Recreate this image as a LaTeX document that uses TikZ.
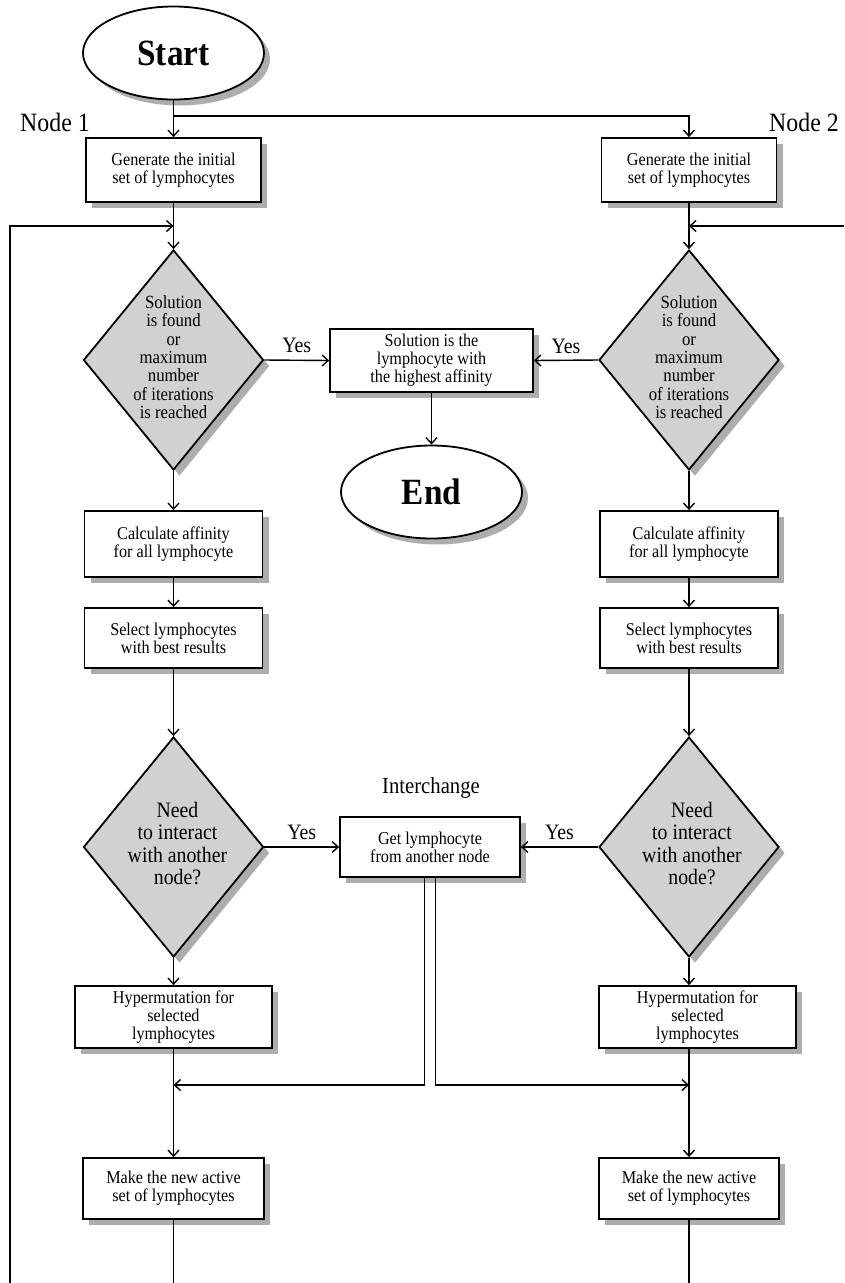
\documentclass[tikz,border=0pt]{standalone}
\usepackage{fontspec}
\setmainfont{Liberation Serif}[FakeStretch=0.9]
\usetikzlibrary{shapes.geometric,shadows,arrows.meta,calc}
\newcommand\boxfont{\fontsize{18}{18}\selectfont}
\newcommand\dafont{\fontsize{18.6}{18.2}\selectfont}
\newcommand\dbfont{\fontsize{22}{22.4}\selectfont}
\newcommand\termfont{\fontsize{37}{38}\selectfont\bfseries}
\newcommand\dtext[2]{\smash{\makebox[0pt]{\hspace*{#1}\raisebox{-.22em}{\begin{tabular}{@{}c@{}}#2\end{tabular}}}}}
\tikzset{
  base/.style={draw=black, line width=1.8pt, fill=white, align=center, inner sep=0pt,
    drop shadow={shadow xshift=6pt, shadow yshift=-6pt, fill=black!32, opacity=1}},
  procbox/.style={base, rectangle, font=\boxfont},
  term/.style={base, ellipse, font=\termfont, minimum width=181pt, minimum height=93pt},
  decision/.style={base, diamond, fill=black!18, minimum width=180pt, minimum height=220pt},
  conn/.style={line width=1.4pt, -{Straight Barb[length=6pt,width=11pt]}},
  plain/.style={line width=1.4pt},
  lbl/.style={font=\fontsize{22}{24}\selectfont, inner sep=0pt},
}
\begin{document}
\begin{tikzpicture}[x=1pt,y=-1pt]
\useasboundingbox (0,0) rectangle (844,1283);
\fill[white] (0,0) rectangle (844,1283);

% nodes
\node[term] (start) at (173.5,53) {Start};
\node[lbl, font=\fontsize{26.5}{28}\selectfont] (n1) at (55,122) {Node 1};
\node[lbl, font=\fontsize{26.5}{28}\selectfont] (n2) at (804,122) {Node 2};

\node[procbox, minimum width=175pt, minimum height=64pt] (gen1) at (173.5,170) {Generate the initial\\set of lymphocytes};
\node[procbox, minimum width=175pt, minimum height=64pt] (gen2) at (689,170) {Generate the initial\\set of lymphocytes};

\node[decision, font=\dafont] (d1) at (173.5,360) {\dtext{0pt}{Solution\\is found\\or\\maximum\\number\\of iterations\\is reached}};
\node[decision, font=\dafont] (d2) at (689,360) {\dtext{0pt}{Solution\\is found\\or\\maximum\\number\\of iterations\\is reached}};

\node[procbox, minimum width=203pt, minimum height=63pt] (sol) at (431.5,360.5) {Solution is the\\lymphocyte with\\the highest affinity};
\node[term] (end) at (431.5,492) {End};

\node[procbox, minimum width=178pt, minimum height=66pt] (calc1) at (173.5,544) {Calculate affinity\\for all lymphocyte};
\node[procbox, minimum width=178pt, minimum height=66pt] (calc2) at (689,544) {Calculate affinity\\for all lymphocyte};

\node[procbox, minimum width=178pt, minimum height=60pt] (sel1) at (173.5,638) {Select lymphocytes\\with best results};
\node[procbox, minimum width=178pt, minimum height=60pt] (sel2) at (689,638) {Select lymphocytes\\with best results};

\node[decision, font=\dbfont] (e1) at (173.5,847) {\dtext{8pt}{Need\\to interact\\with another\\node?}};
\node[decision, font=\dbfont] (e2) at (689,847) {\dtext{6pt}{Need\\to interact\\with another\\node?}};

\node[procbox, minimum width=180pt, minimum height=60pt] (get) at (430,847) {Get lymphocyte\\from another node};
\node[lbl, font=\fontsize{23}{25}\selectfont] (inter) at (431,788) {Interchange};

\node[procbox, minimum width=197pt, minimum height=62pt] (hyp1) at (173.5,1017) {Hypermutation for\\selected\\lymphocytes};
\node[procbox, minimum width=197pt, minimum height=62pt] (hyp2) at (697.5,1017) {Hypermutation for\\selected\\lymphocytes};

\node[procbox, minimum width=181pt, minimum height=61pt] (make1) at (173.5,1188.5) {Make the new active\\set of lymphocytes};
\node[procbox, minimum width=180pt, minimum height=61pt] (make2) at (689,1188.5) {Make the new active\\set of lymphocytes};

% helper coordinates
\coordinate (split) at (173.5,116);
\coordinate (m1) at ($(gen1.south)!.5!(d1.north)$);
\coordinate (m2) at ($(gen2.south)!.5!(d2.north)$);
\coordinate (loopL) at (10,1283);
\coordinate (loopR) at (844,0 |- m2);
\coordinate (jl) at (173.5,1085);
\coordinate (jr) at (689,1085);
\coordinate (b1) at (173.5,1283);
\coordinate (b2) at (689,1283);

% connectors
\draw[plain] (start.south) -- (split);
\draw[conn] (split) -- (gen1.north);
\draw[conn] (split) -| (gen2.north);

\draw[plain] (gen1.south) -- (m1);
\draw[conn] (m1) -- (d1.north);
\draw[plain] (gen2.south) -- (m2);
\draw[conn] (m2) -- (d2.north);
\draw[conn] (loopL) |- (m1);
\draw[conn] (loopR) -- (m2);

\draw[conn] (d1.east) -- (sol.west) node[lbl, midway, yshift=15pt] (y1) {Yes};
\draw[conn] (d2.west) -- (sol.east) node[lbl, midway, yshift=14pt] (y2) {Yes};
\draw[conn] (sol.south) -- (end.north);

\draw[conn] (d1.south) -- (calc1.north);
\draw[conn] (d2.south) -- (calc2.north);
\draw[conn] (calc1.south) -- (sel1.north);
\draw[conn] (calc2.south) -- (sel2.north);
\draw[conn] (sel1.south) -- (e1.north);
\draw[conn] (sel2.south) -- (e2.north);

\draw[conn] (e1.east) -- (get.west) node[lbl, midway, yshift=15pt] (y3) {Yes};
\draw[conn] (e2.west) -- (get.east) node[lbl, midway, yshift=15pt] (y4) {Yes};

\draw[conn] (e1.south) -- (e1.south |- hyp1.north);
\draw[conn] (e2.south) -- (e2.south |- hyp2.north);

\draw[conn] ([xshift=-5.5pt]get.south) |- (jl);
\draw[conn] ([xshift=5.5pt]get.south) |- (jr);

\draw[conn] (hyp1.south -| make1.north) -- (make1.north);
\draw[conn] (hyp2.south -| make2.north) -- (make2.north);

\draw[plain] (make1.south) -- (b1);
\draw[plain] (make2.south) -- (b2);
\end{tikzpicture}
\end{document}
